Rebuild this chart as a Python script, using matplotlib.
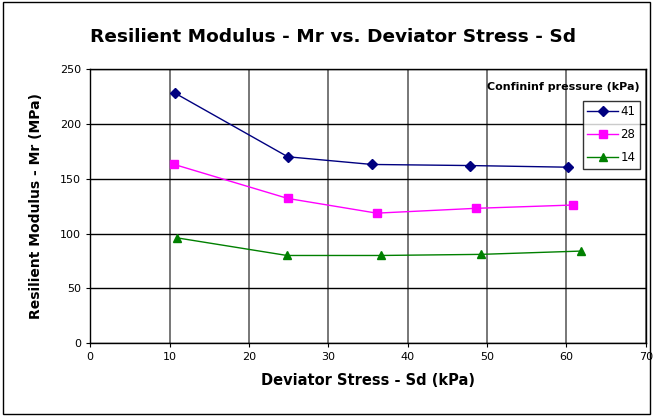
import matplotlib.pyplot as plt
from matplotlib.patches import Rectangle

# Datos
sd_41 = [10.7, 24.9, 35.5, 47.9, 60.2]
mr_41 = [228, 170, 163, 162, 160.5]
sd_28 = [10.6, 24.9, 36.1, 48.6, 60.8]
mr_28 = [163, 132, 118.6, 123, 126]
sd_14 = [11.0, 24.8, 36.6, 49.2, 61.8]
mr_14 = [96, 80, 80, 81, 84]
labels = ['41', '28', '14']

fig = plt.figure(figsize=(6.53, 4.16), dpi=100)
ax = fig.add_axes([0.138, 0.175, 0.851, 0.659])

ax.plot(sd_41, mr_41, color='#000080', marker='D', markersize=5, lw=1, label=labels[0])
ax.plot(sd_28, mr_28, color='#ff00ff', marker='s', markersize=6, lw=1, label=labels[1])
ax.plot(sd_14, mr_14, color='#008000', marker='^', markersize=6, lw=1, label=labels[2])

ax.set_xlim(0, 70)
ax.set_ylim(0, 250)
ax.set_xticks(range(0, 71, 10))
ax.set_yticks(range(0, 251, 50))
ax.xaxis.grid(True, color='#606060', lw=1.2)
ax.yaxis.grid(True, color='black', lw=1)
ax.set_axisbelow(True)
ax.tick_params(labelsize=8, length=3)
for s in ax.spines.values():
    s.set_linewidth(1)

ax.set_xlabel('Deviator Stress - Sd (kPa)', fontsize=10.5, fontweight='bold', labelpad=8)
ax.set_ylabel('Resilient Modulus - Mr (MPa)', fontsize=10, fontweight='bold', labelpad=12)
fig.text(0.51, 0.91, 'Resilient Modulus - Mr vs. Deviator Stress - Sd',
         ha='center', va='center', fontsize=13.3, fontweight='bold')

leg = ax.legend(loc='upper right', bbox_to_anchor=(0.99, 0.885), fontsize=8.5,
                frameon=True, fancybox=False, edgecolor='black', handlelength=2.6,
                handletextpad=0.2, borderpad=0.4, labelspacing=0.85,
                borderaxespad=0)
leg.get_frame().set_linewidth(1)
ax.text(0.988, 0.935, 'Confininf pressure (kPa)', transform=ax.transAxes,
        ha='right', va='center', fontsize=8, fontweight='bold')

fig.patches.append(Rectangle((0.004, 0.004), 0.992, 0.99, transform=fig.transFigure,
                             fill=False, edgecolor='black', lw=1))

plt.savefig('out.png', dpi=100)
